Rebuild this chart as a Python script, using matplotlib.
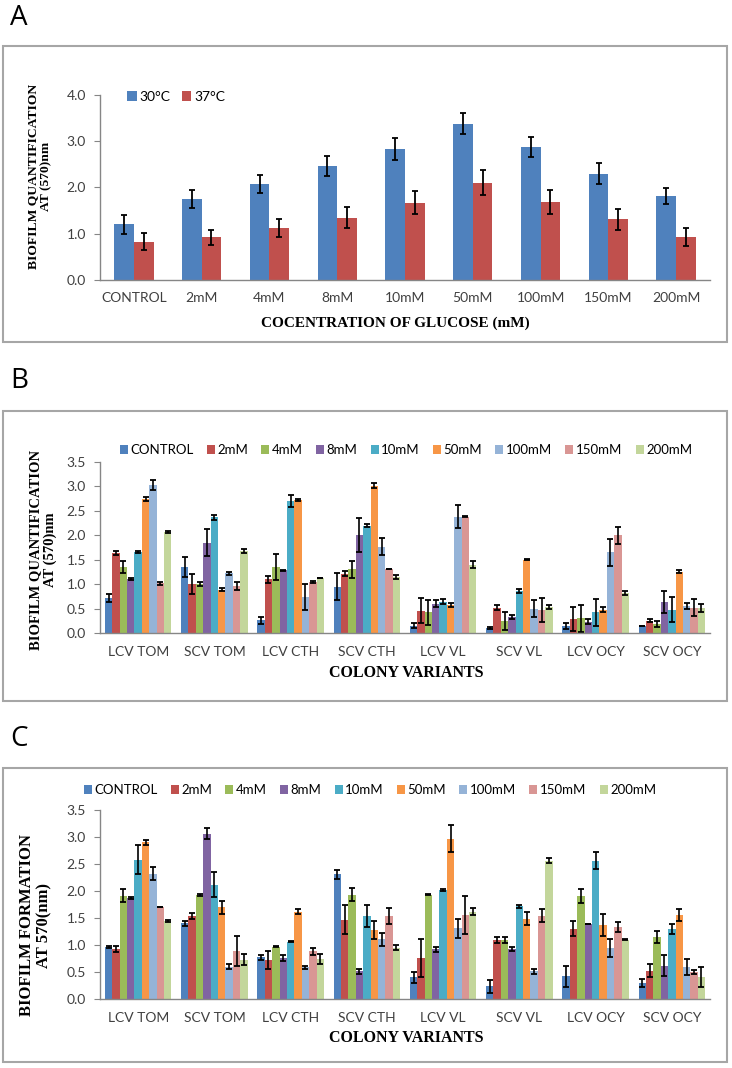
import matplotlib
matplotlib.use("Agg")
import matplotlib.pyplot as plt
from matplotlib.patches import Rectangle
import numpy as np

W, H = 732, 1068

# ---- panel A data ----
glucose = ["CONTROL", "2mM", "4mM", "8mM", "10mM", "50mM", "100mM", "150mM", "200mM"]
a_30 = [1.20, 1.75, 2.07, 2.46, 2.83, 3.38, 2.87, 2.30, 1.82]
a_30_err = [0.20, 0.20, 0.19, 0.22, 0.23, 0.23, 0.22, 0.22, 0.17]
a_37 = [0.83, 0.92, 1.12, 1.35, 1.67, 2.10, 1.68, 1.31, 0.93]
a_37_err = [0.18, 0.16, 0.19, 0.22, 0.25, 0.27, 0.26, 0.23, 0.19]

# ---- panels B and C ----
variants = ["LCV TOM", "SCV TOM", "LCV CTH", "SCV CTH", "LCV VL", "SCV VL", "LCV OCY", "SCV OCY"]

b_vals = [
    [0.72, 1.35, 0.26, 0.95, 0.15, 0.10, 0.15, 0.15],
    [1.64, 1.00, 1.10, 1.21, 0.46, 0.52, 0.29, 0.25],
    [1.35, 1.00, 1.35, 1.30, 0.42, 0.25, 0.30, 0.19],
    [1.10, 1.85, 1.28, 2.00, 0.60, 0.33, 0.23, 0.63],
    [1.66, 2.37, 2.70, 2.20, 0.64, 0.86, 0.42, 0.48],
    [2.75, 0.89, 2.73, 3.01, 0.58, 1.50, 0.48, 1.25],
    [3.03, 1.22, 0.74, 1.77, 2.38, 0.50, 1.65, 0.55],
    [1.02, 0.97, 1.05, 1.31, 2.38, 0.47, 2.00, 0.52],
    [2.06, 1.68, 1.12, 1.15, 1.40, 0.53, 0.82, 0.52],
]
b_err = [
    [0.08, 0.20, 0.07, 0.28, 0.05, 0.02, 0.06, 0.00],
    [0.04, 0.20, 0.07, 0.05, 0.26, 0.05, 0.25, 0.03],
    [0.12, 0.04, 0.27, 0.18, 0.26, 0.18, 0.28, 0.06],
    [0.02, 0.27, 0.01, 0.35, 0.07, 0.04, 0.05, 0.23],
    [0.02, 0.05, 0.12, 0.03, 0.05, 0.05, 0.28, 0.25],
    [0.04, 0.03, 0.02, 0.05, 0.04, 0.01, 0.05, 0.03],
    [0.10, 0.03, 0.27, 0.18, 0.24, 0.17, 0.27, 0.06],
    [0.03, 0.08, 0.02, 0.01, 0.01, 0.25, 0.17, 0.17],
    [0.02, 0.04, 0.00, 0.04, 0.07, 0.04, 0.04, 0.08],
]

c_vals = [
    [0.97, 1.40, 0.77, 2.31, 0.40, 0.24, 0.42, 0.30],
    [0.93, 1.54, 0.72, 1.47, 0.76, 1.09, 1.30, 0.52],
    [1.91, 1.93, 0.97, 1.93, 1.93, 1.09, 1.90, 1.15],
    [1.87, 3.06, 0.76, 0.51, 0.92, 0.92, 1.38, 0.62],
    [2.58, 2.12, 1.06, 1.54, 2.02, 1.72, 2.56, 1.30],
    [2.90, 1.70, 1.62, 1.28, 2.97, 1.49, 1.37, 1.55],
    [2.32, 0.60, 0.59, 1.11, 1.31, 0.51, 0.95, 0.59],
    [1.71, 0.89, 0.88, 1.54, 1.56, 1.54, 1.33, 0.50],
    [1.45, 0.73, 0.74, 0.95, 1.62, 2.56, 1.10, 0.41],
]
c_err = [
    [0.02, 0.05, 0.05, 0.08, 0.10, 0.12, 0.20, 0.07],
    [0.06, 0.06, 0.16, 0.27, 0.36, 0.06, 0.14, 0.12],
    [0.12, 0.02, 0.01, 0.12, 0.01, 0.06, 0.13, 0.11],
    [0.02, 0.10, 0.06, 0.04, 0.05, 0.04, 0.00, 0.20],
    [0.27, 0.24, 0.01, 0.21, 0.02, 0.03, 0.16, 0.09],
    [0.04, 0.12, 0.04, 0.16, 0.25, 0.12, 0.21, 0.11],
    [0.12, 0.05, 0.03, 0.12, 0.18, 0.04, 0.17, 0.15],
    [0.00, 0.27, 0.07, 0.15, 0.35, 0.12, 0.09, 0.04],
    [0.02, 0.10, 0.10, 0.05, 0.06, 0.05, 0.01, 0.19],
]

colors = ["#4F81BD", "#C0504D", "#9BBB59", "#8064A2", "#4BACC6",
          "#F79646", "#95B3D7", "#D99694", "#C3D69B"]

SANS = "Lato"
SERIF = "Liberation Serif"
AXIS_GRAY = "#868686"

fig = plt.figure(figsize=(W / 100, H / 100), dpi=100)


def px_axes(left, right, top, bottom):
    return fig.add_axes([left / W, 1 - bottom / H, (right - left) / W, (bottom - top) / H])


def frame(top, bottom):
    fig.patches.append(Rectangle((3 / W, 1 - bottom / H), 724 / W, (bottom - top) / H,
                                 transform=fig.transFigure, fill=False,
                                 edgecolor="#a6a6a6", linewidth=1.5))


def style_axes(ax, ymax, step):
    for s in ["top", "right"]:
        ax.spines[s].set_visible(False)
    for s in ["left", "bottom"]:
        ax.spines[s].set_color(AXIS_GRAY)
        ax.spines[s].set_linewidth(1.0)
    ax.set_ylim(0, ymax)
    ax.set_yticks(np.arange(0, ymax + 0.01, step))
    ax.set_yticklabels([f"{v:.1f}" for v in np.arange(0, ymax + 0.01, step)],
                       fontfamily=SANS, fontsize=10, color="#404040")
    ax.tick_params(axis="y", direction="out", length=4, color=AXIS_GRAY, pad=6)
    ax.tick_params(axis="x", length=0, pad=9)


def panel_letter(text, y):
    fig.text(10 / W, 1 - y / H, text, fontsize=20, family="Open Sans",
             va="center", ha="left")


def ylabel(lines, x, y, size):
    fig.text(x / W, 1 - y / H, lines, rotation=90, fontsize=size, family=SERIF,
             fontweight="bold", ha="center", va="center", linespacing=1.1)


ebkw = dict(ecolor="black", elinewidth=1.3, capsize=2.5, capthick=1.3)

# ---------------- Panel A ----------------
panel_letter("A", 18)
frame(46, 342)
axA = px_axes(100, 710, 95, 280)
x = np.arange(len(glucose))
bw = 0.29
axA.bar(x - bw / 2, a_30, bw, yerr=a_30_err, color=colors[0], label="30°C", error_kw=ebkw)
axA.bar(x + bw / 2, a_37, bw, yerr=a_37_err, color=colors[1], label="37°C", error_kw=ebkw)
axA.set_xlim(-0.5, len(glucose) - 0.5)
axA.set_xticks(x)
axA.set_xticklabels(glucose, fontfamily=SANS, fontsize=10, color="#404040")
style_axes(axA, 4.0, 1.0)
axA.legend(loc="center left", bbox_to_anchor=(120 / W, 1 - 97 / H),
           bbox_transform=fig.transFigure, ncol=2, frameon=False,
           prop={"family": SANS, "size": 10}, handlelength=0.7, handleheight=0.7,
           handletextpad=0.2, columnspacing=0.8, borderpad=0)
ylabel("BIOFILM QUANTIFICATION\nAT (570)nm", 40, 176, 9.7)
fig.text(395 / W, 1 - 323 / H, "COCENTRATION OF GLUCOSE (mM)", fontsize=11,
         family=SERIF, fontweight="bold", ha="center", va="center")


def grouped(ax, vals, errs, ymax):
    n = len(vals)
    gx = np.arange(len(variants))
    w = 0.097
    for i in range(n):
        ax.bar(gx + (i - (n - 1) / 2) * w, vals[i], w, yerr=errs[i], color=colors[i],
               label=glucose[i], error_kw=dict(ecolor="black", elinewidth=1.2,
                                               capsize=2, capthick=1.3))
    ax.set_xlim(-0.5, len(variants) - 0.5)
    ax.set_xticks(gx)
    ax.set_xticklabels(variants, fontfamily=SANS, fontsize=10, color="#404040")
    style_axes(ax, ymax, 0.5)


def grouped_legend(ax, cx, y):
    ax.legend(loc="center", bbox_to_anchor=(cx / W, 1 - y / H),
              bbox_transform=fig.transFigure, ncol=9, frameon=False,
              prop={"family": SANS, "size": 9.5}, handlelength=0.6, handleheight=0.7,
              handletextpad=0.2, columnspacing=1.0, borderpad=0)


# ---------------- Panel B ----------------
panel_letter("B", 381)
frame(411, 701)
axB = px_axes(100, 710, 462, 633)
grouped(axB, b_vals, b_err, 3.5)
grouped_legend(axB, 406, 450)
ylabel("BIOFILM QUANTIFICATION\nAT (570)nm", 43, 550, 10.5)
fig.text(406 / W, 1 - 673 / H, "COLONY VARIANTS", fontsize=11.5,
         family=SERIF, fontweight="bold", ha="center", va="center")

# ---------------- Panel C ----------------
panel_letter("C", 739)
frame(768, 1062)
axC = px_axes(100, 710, 810, 999)
grouped(axC, c_vals, c_err, 3.5)
grouped_legend(axC, 370, 790)
ylabel("BIOFILM FORMATION\nAT 570(nm)", 36, 925, 12)
fig.text(406 / W, 1 - 1038 / H, "COLONY VARIANTS", fontsize=11.5,
         family=SERIF, fontweight="bold", ha="center", va="center")

fig.savefig("out.png", dpi=100)
